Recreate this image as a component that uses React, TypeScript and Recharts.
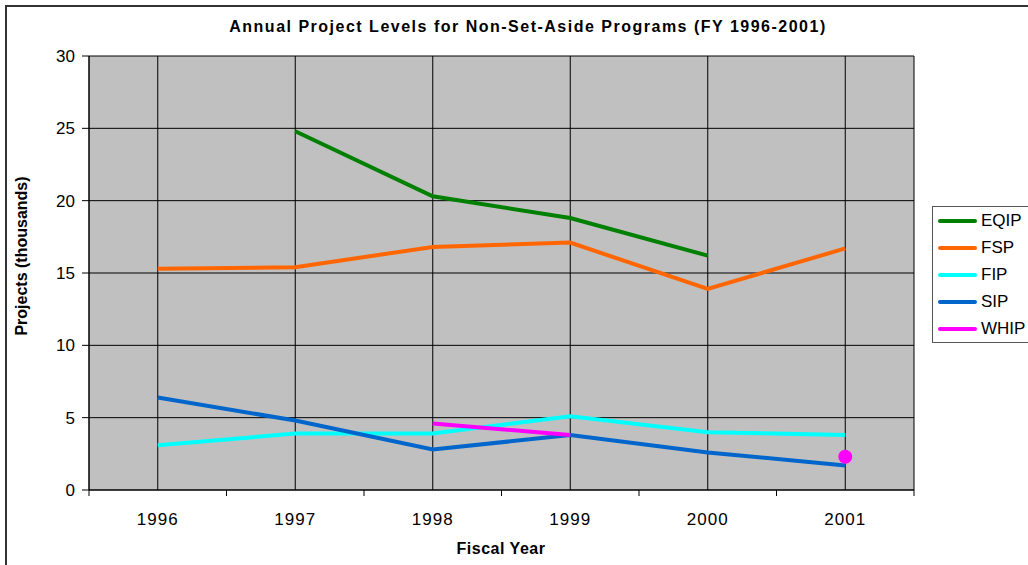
import React from 'react';
import { LineChart, Line, XAxis, YAxis, CartesianGrid } from 'recharts';

const years = ['1996', '1997', '1998', '1999', '2000', '2001'];
const eqip = [null, 24.8, 20.3, 18.8, 16.2, null];
const fsp = [15.3, 15.4, 16.8, 17.1, 13.9, 16.7];
const fip = [3.1, 3.9, 3.9, 5.1, 4.0, 3.8];
const sip = [6.4, 4.8, 2.8, 3.8, 2.6, 1.7];
const whip = [null, null, 4.6, 3.8, null, 2.3];
const yTicks = [0, 5, 10, 15, 20, 25, 30];

const series = [
  { name: 'EQIP', values: eqip, color: '#008000' },
  { name: 'FSP', values: fsp, color: '#FF6600' },
  { name: 'FIP', values: fip, color: '#00FFFF' },
  { name: 'SIP', values: sip, color: '#0066CC' },
  { name: 'WHIP', values: whip, color: '#FF00FF' },
];

const data = years.map((year, i) => {
  const row: any = { year };
  series.forEach(s => { row[s.name] = s.values[i]; });
  return row;
});

const FONT = '"Liberation Sans", Arial, sans-serif';
const BAND = 137.5;

const XTick = ({ x, y, payload, index }: any) => (
  <g>
    <line x1={x - BAND / 2} x2={x - BAND / 2} y1={y} y2={y + 6} stroke="#000" />
    {index === years.length - 1 && (
      <line x1={x + BAND / 2} x2={x + BAND / 2} y1={y} y2={y + 6} stroke="#000" />
    )}
    <text x={x} y={y + 35} textAnchor="middle" fontSize={17} letterSpacing={1} fontFamily={FONT} fill="#000">
      {payload.value}
    </text>
  </g>
);

// draws a marker only where a point has no neighbours (so no line shows it)
const makeDot = (values: (number | null)[], color: string) => (props: any) => {
  const { cx, cy, index } = props;
  const prev = values[index - 1];
  const next = values[index + 1];
  if (values[index] == null || prev != null || next != null) return <g key={index} />;
  return <circle key={index} cx={cx} cy={cy} r={7} fill={color} />;
};

const LegendBox = () => (
  <div style={{ position: 'absolute', left: 932, top: 206, width: 110, border: '1px solid #555', background: '#fff', fontFamily: FONT, boxSizing: 'border-box' }}>
    {series.map(s => (
      <div key={s.name} style={{ height: 27, display: 'flex', alignItems: 'center' }}>
        <div style={{ width: 39, height: 4, marginLeft: 5, marginRight: 4, background: s.color, borderRadius: 2 }} />
        <span style={{ fontSize: 17, color: '#000', whiteSpace: 'nowrap' }}>{s.name}</span>
      </div>
    ))}
  </div>
);

const App: React.FC = () => (
  <div style={{ position: 'absolute', left: 0, top: 0, width: 1028, height: 565, overflow: 'hidden', background: '#fff' }}>
    <div style={{ position: 'absolute', left: 0, top: 0 }}>
      <LineChart width={1028} height={565} data={data} margin={{ top: 56, right: 114, bottom: 15, left: 49 }}>
        <CartesianGrid stroke="#000" fill="#C0C0C0" />
        <XAxis
          dataKey="year"
          scale="band"
          height={60}
          tickLine={false}
          tickSize={0}
          tickMargin={0}
          axisLine={{ stroke: '#000' }}
          tick={<XTick />}
          interval={0}
        />
        <YAxis
          width={40}
          domain={[0, 30]}
          ticks={yTicks}
          tickSize={7}
          tickMargin={7}
          axisLine={{ stroke: '#000' }}
          tickLine={{ stroke: '#000' }}
          tick={{ fontSize: 17, fontFamily: FONT, fill: '#000' }}
        />
        {series.map(s => (
          <Line
            key={s.name}
            dataKey={s.name}
            stroke={s.color}
            strokeWidth={4}
            dot={makeDot(s.values, s.color)}
            activeDot={false}
            isAnimationActive={false}
          />
        ))}
      </LineChart>
    </div>
    <LegendBox />
    <div style={{ position: 'absolute', left: 528, top: 18, transform: 'translateX(-50%)', whiteSpace: 'nowrap', fontFamily: FONT, fontWeight: 'bold', fontSize: 16, letterSpacing: 1.5 }}>
      Annual Project Levels for Non-Set-Aside Programs (FY 1996-2001)
    </div>
    <div style={{ position: 'absolute', left: 22, top: 256, transform: 'translate(-50%, -50%) rotate(-90deg)', whiteSpace: 'nowrap', fontFamily: FONT, fontWeight: 'bold', fontSize: 16 }}>
      Projects (thousands)
    </div>
    <div style={{ position: 'absolute', left: 501, top: 549, transform: 'translate(-50%, -50%)', whiteSpace: 'nowrap', fontFamily: FONT, fontWeight: 'bold', fontSize: 16, letterSpacing: 0.5 }}>
      Fiscal Year
    </div>
    <div style={{ position: 'absolute', left: 5, top: 5, width: 1030, height: 570, border: '2px solid #333', boxSizing: 'border-box', zIndex: 2, pointerEvents: 'none' }} />
  </div>
);

export default App;
